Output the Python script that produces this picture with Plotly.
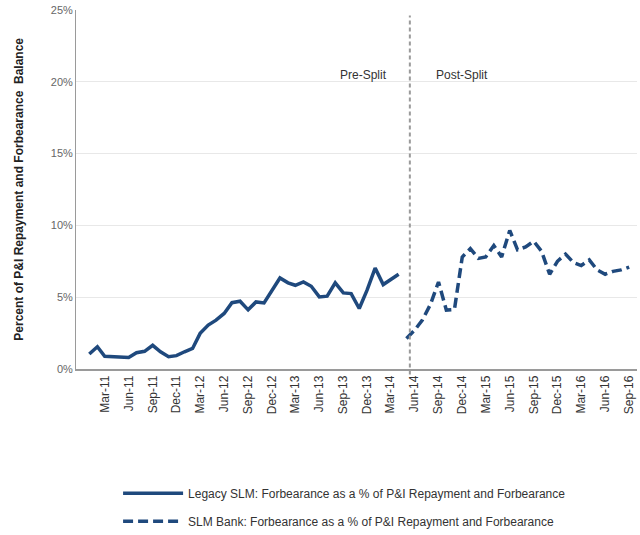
import pandas as pd
import plotly.graph_objects as go

# monthly observations, % of P&I repayment and forbearance balance
legacy_months = pd.date_range('2011-01-01', '2014-04-01', freq='MS')
legacy_vals = [1.04, 1.55, 0.88, 0.86, 0.78, 0.80, 1.13, 1.23, 1.65, 1.20,
               0.86, 0.93, 1.20, 1.43, 2.48, 3.06, 3.40, 3.87, 4.62, 4.72,
               4.12, 4.67, 4.60, 5.49, 6.34, 6.00, 5.83, 6.06, 5.76, 5.02,
               5.07, 6.00, 5.30, 5.25, 4.21, 5.49, 7.03, 5.88, 6.23, 6.60]

bank_months = pd.date_range('2014-05-01', '2016-09-01', freq='MS')
bank_vals = [2.13, 2.70, 3.40, 4.50, 6.06, 4.10, 4.14, 7.80, 8.38, 7.70,
             7.80, 8.60, 7.80, 9.65, 8.30, 8.50, 8.90, 8.20, 6.60, 7.50,
             8.00, 7.40, 7.20, 7.60, 6.90, 6.60, 6.80, 6.90, 7.10]

tick_dates = pd.date_range('2011-03-01', '2016-09-01', freq='3MS')
split_date = '2014-05-14'

LINE_BLUE = '#1F497D'
FONT = 'Liberation Sans, Arial, sans-serif'

fig = go.Figure()

fig.add_trace(go.Scatter(
    x=legacy_months, y=legacy_vals, mode='lines',
    line=dict(color=LINE_BLUE, width=3.5),
    name='Legacy SLM: Forbearance as a % of P&I Repayment and Forbearance',
    legendgroup='a'
))
fig.add_trace(go.Scatter(
    x=bank_months, y=bank_vals, mode='lines',
    line=dict(color=LINE_BLUE, width=3.5, dash='10px,5px'),
    name='SLM Bank: Forbearance as a % of P&I Repayment and Forbearance',
    legendgroup='b'
))

# split marker
fig.add_shape(type='line', xref='x', yref='paper', x0=split_date, x1=split_date,
              y0=-0.015, y1=0.985, line=dict(color='#9a9a9a', width=2, dash='4px,3px'))
fig.add_annotation(text='Pre-Split', xref='paper', yref='paper', x=0.513, y=0.844,
                   xanchor='center', showarrow=False, font=dict(size=12, color='#333333'))
fig.add_annotation(text='Post-Split', xref='paper', yref='paper', x=0.688, y=0.844,
                   xanchor='center', showarrow=False, font=dict(size=12, color='#333333'))

# y-axis title
fig.add_annotation(text='<b>Percent of P&I Repayment and Forbearance  Balance</b>',
                   xref='paper', yref='paper', x=-0.103, y=0.5, textangle=-90,
                   xanchor='center', yanchor='middle', showarrow=False,
                   font=dict(size=12, color='#222222'))

fig.update_layout(
    width=640, height=535,
    margin=dict(l=76, r=3, t=10, b=166, autoexpand=False),
    paper_bgcolor='white', plot_bgcolor='white',
    font=dict(family=FONT, color='#333333'),
    showlegend=True,
    legend=dict(xref='container', yref='container', x=0.1845, y=0.105,
                xanchor='left', yanchor='top',
                font=dict(size=12, color='#333333'),
                tracegroupgap=9, itemwidth=60, bgcolor='rgba(0,0,0,0)'),
    xaxis=dict(
        type='date', range=['2010-11-11', '2016-10-01'],
        tickvals=tick_dates, tickformat='%b-%y', tickangle=-90,
        tickfont=dict(size=12, color='#333333'),
        showgrid=False, showline=True, linecolor='#9a9a9a', linewidth=1.5,
        ticks='', zeroline=False, automargin=False, ticklabeloverflow='allow'
    ),
    yaxis=dict(
        range=[0, 25], dtick=5, ticksuffix='%',
        tickfont=dict(size=11, color='#666666'),
        showgrid=True, gridcolor='#e8e8e8', gridwidth=1,
        showline=True, linecolor='#9a9a9a', linewidth=1,
        zeroline=False, ticks='', automargin=False, ticklabeloverflow='allow'
    ),
)

fig.write_html('out.html', config={'displayModeBar': False},
               post_script="document.body.style.margin='0';")
